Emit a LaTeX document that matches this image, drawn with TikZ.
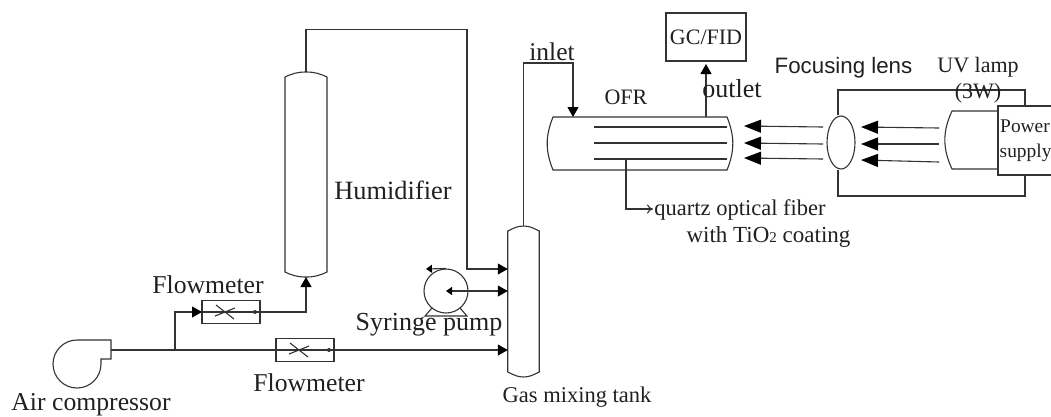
\documentclass[tikz,border=0pt]{standalone}
\usepackage{fontspec}
\setmainfont{Liberation Serif}
\newfontfamily\lenssans{Liberation Sans}
\usetikzlibrary{arrows.meta,shapes.geometric}
\definecolor{pipegray}{HTML}{333333}
\definecolor{inkgray}{HTML}{202020}
\tikzset{
    pipe/.style={draw=pipegray,line width=1.1pt},
    head/.style={-{Triangle[length=10pt,width=11pt,color=black]}},
    bighead/.style={-{Triangle[length=17pt,width=13pt,color=black]}},
    smallhead/.style={-{Triangle[length=6pt,width=8pt,color=black]}},
    openhead/.style={-{To[length=6pt,width=9pt]}},
    lbl/.style={text=inkgray,inner sep=0pt,font=\fontsize{#1}{27}\selectfont},
    lbl/.default=25.7,
    vessel/.style={inner sep=0pt,outer sep=0pt},
}
\begin{document}
\begin{tikzpicture}[x=1pt,y=-1pt]
\useasboundingbox (0,0) rectangle (1051,416);
\clip (0,0) rectangle (1051,416);

% vessels
\foreach \name/\x/\y/\w/\h in {hum/306/174.5/42/205,tank/523.5/301.5/31.5/151} {%
    \node (\name) at (\x,\y) [vessel,minimum width=\w pt,minimum height=\h pt] {};
    \draw[pipe] ([yshift=-5pt]\name.north west)
        to[out=25,in=180] (\name.north)
        to[out=0,in=155] ([yshift=-5pt]\name.north east)
        -- ([yshift=5pt]\name.south east)
        to[out=205,in=0] (\name.south)
        to[out=180,in=-25] ([yshift=5pt]\name.south west)
        -- cycle;
}

% compressor
\coordinate (compressor) at (111,350);
\coordinate (branch) at (175,350);
\draw[pipe] (111,340) -- (77,340) arc[start angle=-90,delta angle=-270,radius=24]
    -- (101,359) -- (111,359) -- cycle;

% flowmeters
\foreach \name/\x/\y in {flowa/231/312,flowb/305/350} {%
    \node (\name) at (\x,\y) [pipe,vessel,minimum width=58pt,minimum height=23.5pt] {};
    \draw[pipe] (\name.west) -- (\name.east);
    \draw[pipe] (\x-15,\y-7) -- (\x+3,\y+7);
    \draw[pipe] (\x-16,\y+4) -- (\x+4,\y-4);
    \fill[pipegray] (\x+24,\y) circle[radius=2];
}

% pump
\node (pump) at (446,291) [pipe,circle,inner sep=0pt,minimum size=44pt] {};
\draw[pipe] (432,308) -- (425,316) -- (467,316) -- (460,308);
\coordinate (pumpout) at (426,269);
\draw[pipe,smallhead] (pump.north) -- (pumpout);
\draw[pipe,smallhead] (pump.east) -- (pump.center);
\draw[pipe,head] (pump.east) -- (pump.east -| tank.west);

% pipes
\coordinate (humtop) at (467,29.5);
\coordinate (tankin) at (467,269);
\coordinate (inletcorner) at (573,63);
\coordinate (inlet) at (573,117);
\coordinate (outlet) at (706,117);
\draw[pipe] (compressor) -- (flowb.west);
\draw[pipe,head] (branch) |- (flowa.west);
\draw[pipe,head] (flowa.east) -| (hum.south);
\draw[pipe,head] (flowb.east) -- (flowb.east -| tank.west);
\draw[pipe,head] (hum.north) |- (humtop) -- (tankin) -- (tankin -| tank.west);
\draw[pipe,head] (tank.north) |- (inletcorner) -- (inlet);

% reactor
\node (ofr) at (640,143.5) [vessel,minimum width=174pt,minimum height=53pt] {};
\draw[pipe] (ofr.north west) -- (ofr.north east)
    to[out=-68,in=68] (ofr.south east) -- (ofr.south west)
    to[out=112,in=-112] cycle;
\foreach \y in {127,143,159} {%
    \coordinate (fiber\y) at (594,\y);
    \draw[pipe] (fiber\y) -- (727,\y);
}
\coordinate (fibertap) at (626,159);
\coordinate (fiberlabel) at (653,209);
\draw[pipe,openhead] (fibertap) |- (fiberlabel);

% analyser
\node (gc) at (706,37) [pipe,vessel,minimum width=80pt,minimum height=48pt] {};
\node at (gc.center) [lbl=22] {GC/FID};
\draw[pipe,head] (outlet) -- ([yshift=-3pt]gc.south);

% lens, lamp, power supply
\node (lens) at (841,142.5) [pipe,ellipse,inner sep=0pt,minimum width=28pt,minimum height=53pt] {};
\node (power) at (1033,140.5) [pipe,vessel,minimum width=70pt,minimum height=69pt] {};
\draw[pipe] (998,111) -- (952,111) to[out=-115,in=115] (952,169) -- (998,169);
\coordinate (frametl) at (838,90);
\coordinate (framebl) at (838,196);
\coordinate (frametr) at (1025,90);
\coordinate (framebr) at (1025,196);
\draw[pipe] (lens.north -| frametl) -- (frametl) -- (frametr) -- (frametr |- power.north);
\draw[pipe] (lens.south -| framebl) -- (framebl) -- (framebr) -- (framebr |- power.south);
\foreach \y/\z in {127/126,144/143,159/158} {%
    \coordinate (beama\y) at (823,\y);
    \coordinate (beamb\y) at (744,\z);
    \draw[pipe,bighead] (beama\y) -- (beamb\y);
}
\foreach \y/\z in {128/127,144/144,162/160} {%
    \coordinate (rays\y) at (939,\y);
    \coordinate (rayt\y) at (861,\z);
    \draw[pipe,bighead] (rays\y) -- (rayt\y);
}

% labels
\node (compressorlabel) at (91,405) [lbl] {Air compressor};
\node (flowalabel) at (208,285) [lbl] {Flowmeter};
\node (flowblabel) at (309,383) [lbl] {Flowmeter};
\node (humlabel) at (393,190) [lbl=26.4] {Humidifier};
\node (pumplabel) at (429,325) [lbl=26] {Syringe pump};
\node (tanklabel) at (577,397) [lbl=22.5] {Gas mixing tank};
\node (inletlabel) at (552,52) [lbl=25.5] {inlet};
\node (outletlabel) at (732,89) [lbl=26] {outlet};
\node (ofrlabel) at (626,97) [lbl=22] {OFR};
\node (fiberlabela) at (740,210) [lbl=22.5] {quartz optical fiber};
\node (fiberlabelb) at (768.5,237) [lbl=23] {with TiO{\fontsize{15}{27}\selectfont 2} coating};
\node (lenslabel) at (843.5,68) [inner sep=0pt,text=inkgray,font=\lenssans\fontsize{22.3}{27}\selectfont] {Focusing lens};
\node (lamplabel) at (978,67) [lbl=22] {UV lamp};
\node (wattlabel) at (978,93) [lbl=22] {(3W)};
\node (powerlabel) at (1000,126) [lbl=19.4,anchor=west] {Power};
\node (supplylabel) at (999.5,153) [lbl=19.4,anchor=west] {supply};
\end{tikzpicture}
\end{document}
